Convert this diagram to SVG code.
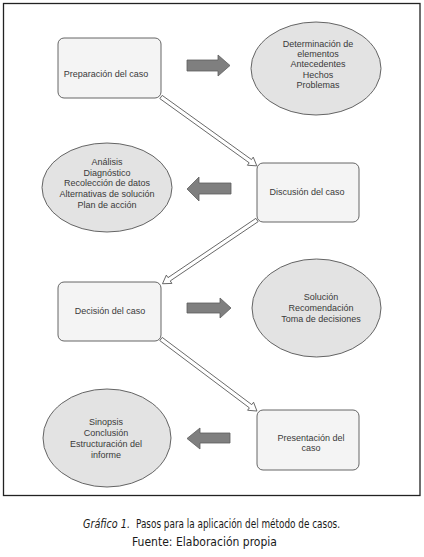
<svg xmlns="http://www.w3.org/2000/svg" width="424" height="557" viewBox="0 0 424 557">
<style>
.box{fill:#f4f4f4;stroke:#555;stroke-width:0.9}
.ell{fill:#e3e3e3;stroke:#555;stroke-width:0.9}
.t{font-family:"Liberation Sans",Arial,sans-serif;font-size:9px;fill:#3a3a3a;text-anchor:middle}
.blk{fill:#7f7f7f;stroke:#5e5e5e;stroke-width:0.8}
.hol{fill:#fff;stroke:#555;stroke-width:0.8}
.cap{font-family:"DejaVu Sans Condensed","Liberation Sans",sans-serif;font-size:13px;fill:#1a1a1a}
</style>
<rect x="0" y="0" width="424" height="557" fill="#fff"/>
<rect x="3.5" y="3.5" width="416.5" height="492" fill="none" stroke="#222" stroke-width="1.3"/>
<g id="connectors">
<polygon class="hol" transform="translate(161,97) rotate(35.7)" points="0,-2 110,-2 110,-5 118,0 110,5 110,2 0,2"/>
<polygon class="hol" transform="translate(257,220) rotate(146)" points="0,-2 106,-2 106,-5 114,0 106,5 106,2 0,2"/>
<polygon class="hol" transform="translate(161,339) rotate(36.9)" points="0,-2 112,-2 112,-5 120,0 112,5 112,2 0,2"/>
<polygon class="blk" points="187,60 218,60 218,55 230,65.5 218,76 218,71 187,71"/>
<polygon class="blk" points="231,183 199,183 199,177 187,189 199,201 199,194 231,194"/>
<polygon class="blk" points="187,303 220,303 220,298 231,308 220,318 220,313 187,313"/>
<polygon class="blk" points="230,433 200,433 200,428 187,438.5 200,449 200,443 230,443"/>
</g>
<g id="n1"><rect class="box" x="58" y="38" width="103" height="60" rx="6"/><text class="t" x="106" y="77">Preparación del caso</text></g>
<g id="e1"><ellipse class="ell" cx="316" cy="68.5" rx="65" ry="46.5"/>
<text class="t" x="318" y="46.5">Determinación de</text>
<text class="t" x="318" y="57">elementos</text>
<text class="t" x="318" y="67">Antecedentes</text>
<text class="t" x="318" y="77.5">Hechos</text>
<text class="t" x="318" y="87.5">Problemas</text></g>
<g id="n2"><rect class="box" x="257" y="163" width="102" height="59" rx="6"/><text class="t" x="307" y="194.5">Discusión del caso</text></g>
<g id="e2"><ellipse class="ell" cx="107" cy="187.5" rx="65" ry="44.5"/>
<text class="t" x="107" y="164.5">Análisis</text>
<text class="t" x="107" y="175.5">Diagnóstico</text>
<text class="t" x="107" y="186">Recolección de datos</text>
<text class="t" x="107" y="196.5">Alternativas de solución</text>
<text class="t" x="107" y="208">Plan de acción</text></g>
<g id="n3"><rect class="box" x="58" y="282" width="103" height="59" rx="6"/><text class="t" x="110" y="313.5">Decisión del caso</text></g>
<g id="e3"><ellipse class="ell" cx="316.5" cy="308" rx="64.5" ry="49"/>
<text class="t" x="321" y="299.5">Solución</text>
<text class="t" x="321" y="310.5">Recomendación</text>
<text class="t" x="321" y="322">Toma de decisiones</text></g>
<g id="n4"><rect class="box" x="257" y="410" width="102" height="60" rx="6"/>
<text class="t" x="311" y="440.5">Presentación del</text>
<text class="t" x="311" y="451">caso</text></g>
<g id="e4"><ellipse class="ell" cx="107" cy="438" rx="64" ry="49"/>
<text class="t" x="106" y="424.5">Sinopsis</text>
<text class="t" x="106" y="435.5">Conclusión</text>
<text class="t" x="106" y="446.5">Estructuración del</text>
<text class="t" x="106" y="457.5">informe</text></g>
<g id="caption">
<text class="cap" x="83" y="527.5" font-style="italic" textLength="47" lengthAdjust="spacingAndGlyphs">Gráfico 1.</text>
<text class="cap" x="136" y="527.5" textLength="204" lengthAdjust="spacingAndGlyphs">Pasos para la aplicación del método de casos.</text>
<text class="cap" x="132" y="545.5" textLength="145" lengthAdjust="spacingAndGlyphs">Fuente: Elaboración propia</text>
</g>
</svg>
